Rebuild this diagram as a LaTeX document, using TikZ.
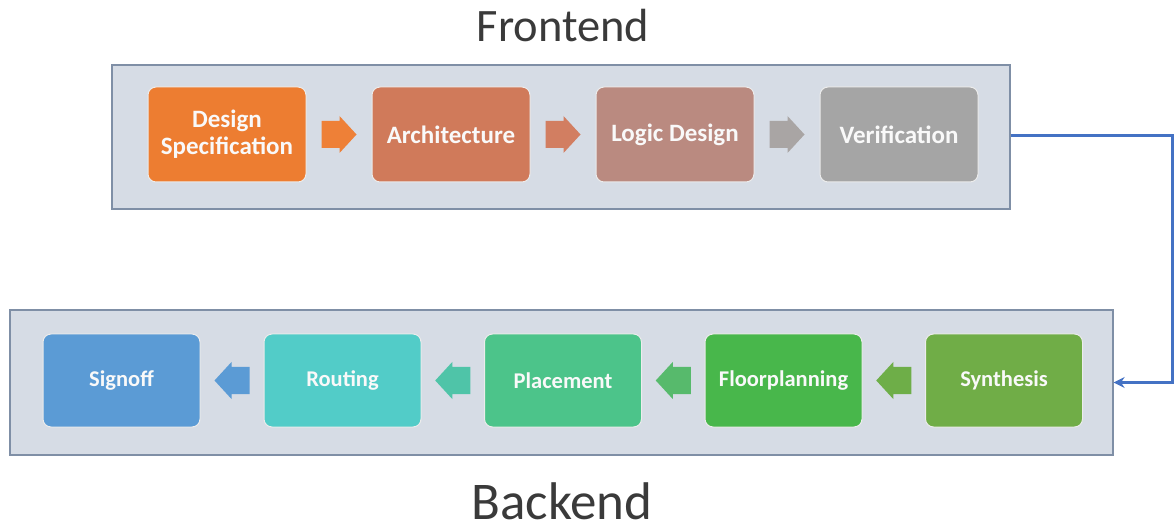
\documentclass[tikz,border=0pt]{standalone}
\usepackage{fontspec}
\setmainfont{Carlito}
\usetikzlibrary{calc,arrows.meta}
\definecolor{panelfill}{HTML}{D6DCE5}
\definecolor{paneldraw}{HTML}{7F8FA6}
\definecolor{linkblue}{HTML}{4472C4}
\definecolor{titlegray}{HTML}{3A3A3A}
\definecolor{cDS}{HTML}{ED7D31}
\definecolor{cAR}{HTML}{D07A5A}
\definecolor{cLD}{HTML}{BA8A80}
\definecolor{cVE}{HTML}{A5A5A5}
\definecolor{aA}{HTML}{EE8037}
\definecolor{aB}{HTML}{D27E61}
\definecolor{aC}{HTML}{A9A5A4}
\definecolor{cSY}{HTML}{70AD47}
\definecolor{cFP}{HTML}{48B74B}
\definecolor{cPL}{HTML}{4CC48A}
\definecolor{cRO}{HTML}{52CCC8}
\definecolor{cSO}{HTML}{5B9BD5}
\definecolor{bA}{HTML}{6EAE48}
\definecolor{bB}{HTML}{57BA6C}
\definecolor{bC}{HTML}{4FC4A8}
\definecolor{bD}{HTML}{5B9BD5}
\tikzset{
  panel/.style={draw=paneldraw, fill=panelfill, line width=1.2pt, inner sep=0pt},
  stepbox/.style={rounded corners=8pt, draw=white!85!gray, line width=1pt, inner sep=0pt,
    text=white!95!gray, align=center},
  febox/.style={stepbox, minimum width=158pt, minimum height=95pt,
    font=\bfseries\fontsize{25}{27}\selectfont},
  bebox/.style={stepbox, minimum width=157pt, minimum height=93pt,
    font=\bfseries\fontsize{22.5}{25}\selectfont},
  title/.style={text=titlegray, inner sep=0pt, anchor=base},
  pics/blockarrow/.style={code={
    \fill[#1] (-17.5pt,-13.5pt) -- (0.5pt,-13.5pt) -- (0.5pt,-18.5pt) -- (17.5pt,0pt)
      -- (0.5pt,18.5pt) -- (0.5pt,13.5pt) -- (-17.5pt,13.5pt) -- cycle;}}
}
\begin{document}
\begin{tikzpicture}[x=1pt,y=-1pt]
\useasboundingbox (0,0) rectangle (1175,526);
% titles
\node[title, font=\fontsize{46.5}{50}\selectfont] (tfe) at (563,42) {Frontend};
\node[title, font=\fontsize{53}{57}\selectfont] (tbe) at (562,519.5) {Backend};
% panels
\node[panel, minimum width=898pt, minimum height=144pt] (fe) at (561,137) {};
\node[panel, minimum width=1103pt, minimum height=145pt] (be) at (561.5,382.5) {};
% frontend steps
\node[febox, fill=cDS] (ds) at (227,134.5) {Design\\Specification};
\node[febox, fill=cAR] (ar) at (451,134.5) {Architecture};
\node[febox, fill=cLD] (ld) at (675,134.5) {Logic Design};
\node[febox, fill=cVE] (ve) at (899,134.5) {Verification};
\pic at ($(ds.east)!0.5!(ar.west)$) {blockarrow=aA};
\pic at ($(ar.east)!0.5!(ld.west)$) {blockarrow=aB};
\pic at ($(ld.east)!0.5!(ve.west)$) {blockarrow=aC};
% backend steps
\node[bebox, fill=cSO] (so) at (121.5,380.5) {Signoff};
\node[bebox, fill=cRO] (ro) at (342.5,380.5) {Routing};
\node[bebox, fill=cPL] (pl) at (563,380.5) {Placement};
\node[bebox, fill=cFP] (fp) at (783.5,380.5) {Floorplanning};
\node[bebox, fill=cSY] (sy) at (1004,380.5) {Synthesis};
\pic[rotate=180] at ($(fp.east)!0.5!(sy.west)$) {blockarrow=bA};
\pic[rotate=180] at ($(pl.east)!0.5!(fp.west)$) {blockarrow=bB};
\pic[rotate=180] at ($(ro.east)!0.5!(pl.west)$) {blockarrow=bC};
\pic[rotate=180] at ($(so.east)!0.5!(ro.west)$) {blockarrow=bD};
% connector
\draw[linkblue, line width=3.2pt, -{Stealth[length=11pt,width=11pt]}]
  ($(fe.east)+(0,-1.5)$) -- ++(161.5,0) coordinate (turn) |- (be.east);
\end{tikzpicture}
\end{document}
